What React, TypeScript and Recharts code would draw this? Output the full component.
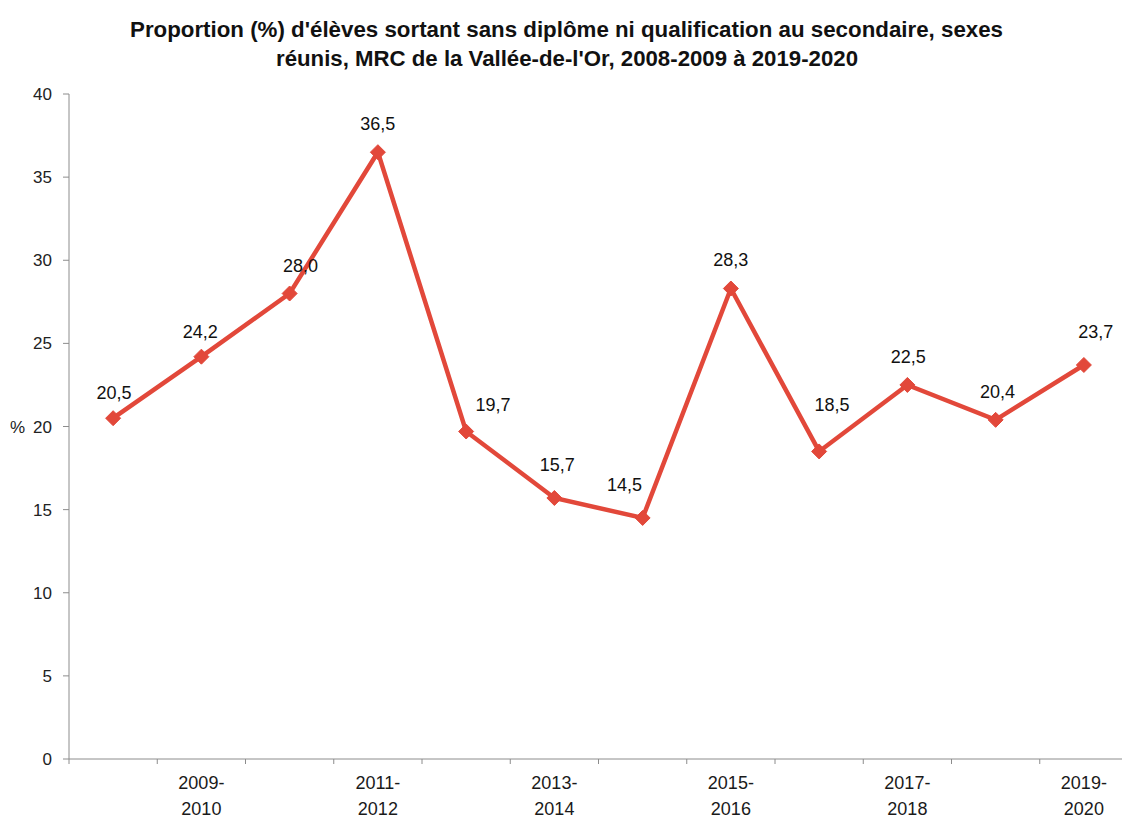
import React from 'react';
import { LineChart, Line, XAxis, YAxis, LabelList } from 'recharts';

const categories = [
  '2008-2009', '2009-2010', '2010-2011', '2011-2012', '2012-2013', '2013-2014',
  '2014-2015', '2015-2016', '2016-2017', '2017-2018', '2018-2019', '2019-2020',
];
const values = [20.5, 24.2, 28.0, 36.5, 19.7, 15.7, 14.5, 28.3, 18.5, 22.5, 20.4, 23.7];
const yTicks = [0, 5, 10, 15, 20, 25, 30, 35, 40];
const titleLines = [
  "Proportion (%) d'élèves sortant sans diplôme ni qualification au secondaire, sexes",
  "réunis, MRC de la Vallée-de-l'Or, 2008-2009 à 2019-2020",
];

// label placement tweaks (pixels), as in the original (manually moved labels)
const labelDx = [1, -1, 11, 0, 27, 3, -18, 0, 13, 1, 2, 12];
const labelDy = [-26, -25, -28, -29, -27, -33, -33, -29, -47, -28, -28, -33];

const data = categories.map((c, i) => ({ x: i + 0.5, cat: c, v: values[i] }));
const boundaryTicks = categories.map((_, i) => i).concat([categories.length]);
const labelTicks = categories.map((_, i) => i).filter((i) => i % 2 === 1).map((i) => i + 0.5);
const xTicks = [...boundaryTicks, ...labelTicks].sort((a, b) => a - b);

const FONT = "'Liberation Sans', Arial, sans-serif";
const RED = '#E2483A';
const AXIS = '#8c8c8c';

const XTick = (props: any) => {
  const { x, y, payload } = props;
  const v = payload.value;
  if (Number.isInteger(v)) {
    return <line x1={x} y1={y} x2={x} y2={y + 5} stroke={AXIS} strokeWidth={1} />;
  }
  const idx = Math.round(v - 0.5);
  const parts = categories[idx].split('-');
  return (
    <text x={x} y={y} textAnchor="middle" fontSize={18} fill="#1a1a1a" fontFamily={FONT}>
      <tspan x={x} dy={30}>{parts[0]}-</tspan>
      <tspan x={x} dy={26}>{parts[1]}</tspan>
    </text>
  );
};

const Diamond = (props: any) => {
  const { cx, cy, index } = props;
  if (cx == null || cy == null) return <g key={`d${index}`} />;
  const r = 7.5;
  return (
    <path
      key={`d${index}`}
      d={`M${cx},${cy - r}L${cx + r},${cy}L${cx},${cy + r}L${cx - r},${cy}Z`}
      fill={RED}
      stroke={RED}
    />
  );
};

const ValueLabel = (props: any) => {
  const { x, y, index, value } = props;
  const txt = Number(value).toFixed(1).replace('.', ',');
  return (
    <text
      x={x + labelDx[index]}
      y={y + labelDy[index] + 6.5}
      textAnchor="middle"
      fontSize={18}
      fill="#111"
      fontFamily={FONT}
    >
      {txt}
    </text>
  );
};

export default function App() {
  return (
    <div
      style={{
        position: 'absolute',
        left: 0,
        top: 0,
        width: 1122,
        height: 827,
        overflow: 'hidden',
        background: '#fff',
        fontFamily: FONT,
      }}
    >
      <svg width={1122} height={90} style={{ position: 'absolute', left: 0, top: 0 }}>
        <text
          x={566.5}
          y={37}
          textAnchor="middle"
          fontSize={22.5}
          fontWeight="bold"
          fill="#111"
          fontFamily={FONT}
          textLength={873}
          lengthAdjust="spacingAndGlyphs"
        >
          {titleLines[0]}
        </text>
        <text
          x={567}
          y={66}
          textAnchor="middle"
          fontSize={22.5}
          fontWeight="bold"
          fill="#111"
          fontFamily={FONT}
          textLength={582}
          lengthAdjust="spacingAndGlyphs"
        >
          {titleLines[1]}
        </text>
      </svg>
      <div style={{ position: 'absolute', left: 0, top: 0 }}>
        <LineChart
          width={1130}
          height={827}
          data={data}
          margin={{ top: 94, right: 2, left: 0, bottom: 0 }}
        >
          <XAxis
            dataKey="x"
            type="number"
            domain={[0, categories.length]}
            ticks={xTicks}
            interval={0}
            height={68}
            tickSize={0}
            tickMargin={0}
            tickLine={false}
            axisLine={{ stroke: AXIS, strokeWidth: 1 }}
            tick={<XTick />}
            allowDataOverflow
          />
          <YAxis
            type="number"
            domain={[0, 40]}
            ticks={yTicks}
            interval={0}
            width={69}
            tickSize={6}
            tickMargin={11}
            axisLine={{ stroke: AXIS, strokeWidth: 1 }}
            tickLine={{ stroke: AXIS, strokeWidth: 1 }}
            tick={{ fontSize: 17, fill: '#222', fontFamily: FONT }}
            label={{
              value: '%',
              position: 'insideLeft',
              offset: 10,
              fontSize: 17,
              fill: '#222',
              fontFamily: FONT,
            }}
          />
          <Line
            type="linear"
            dataKey="v"
            stroke={RED}
            strokeWidth={4.5}
            dot={(p: any) => <Diamond {...p} />}
            activeDot={false}
            isAnimationActive={false}
          >
            <LabelList dataKey="v" content={(p: any) => <ValueLabel {...p} />} />
          </Line>
        </LineChart>
      </div>
    </div>
  );
}
